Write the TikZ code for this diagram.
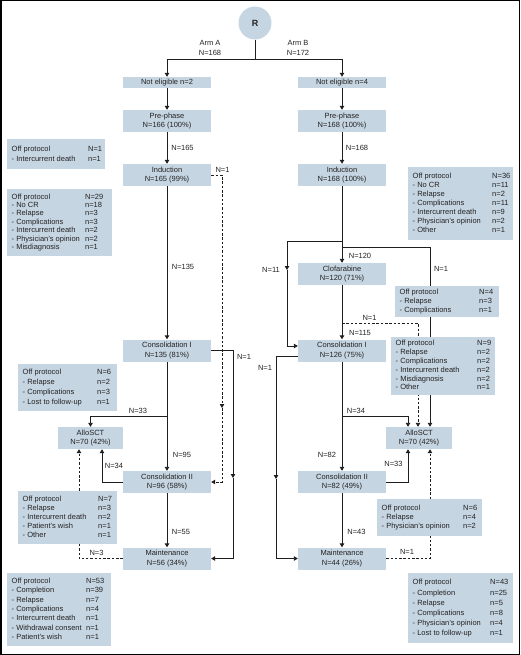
\documentclass[tikz,border=0pt]{standalone}
\usepackage{fontspec}
\setmainfont{Liberation Sans}
\usetikzlibrary{arrows.meta}
\definecolor{boxblue}{RGB}{198,213,226}
\definecolor{linec}{RGB}{30,30,30}
\definecolor{txt}{RGB}{35,35,35}
\tikzset{
 mainbox/.style={fill=boxblue, minimum width=88pt, minimum height=22pt, inner sep=0pt, align=center, font=\fontsize{7.5}{9.5}\selectfont, text=txt},
 thinbox/.style={mainbox, minimum height=11pt},
 opbox/.style={fill=boxblue, inner sep=0pt, anchor=north west},
 lab/.style={inner sep=0pt, font=\fontsize{7.5}{10}\selectfont, text=txt, align=center},
 conn/.style={draw=linec, line width=0.9pt},
 arr/.style={conn, -{Triangle[length=4pt,width=4.5pt]}},
 dsh/.style={dash pattern=on 2.5pt off 1.8pt},
}
\newcommand{\opb}[8]{%
 \node[opbox, minimum width={#4-#2}, minimum height={#5-#3}] (#1) at (#2,#3) {};
 \node[inner sep=0pt, anchor=west, text=txt] (#1t) at ([xshift=4.5pt]#1.west)
   {\fontsize{7.5}{#7}\selectfont\begin{tabular}{@{}p{#6pt}@{}l@{}}#8\end{tabular}};}
\begin{document}
\begin{tikzpicture}[x=1pt,y=-1pt]
\useasboundingbox (0,0) rectangle (520,655);
\draw[line width=1.5pt, draw=black] (0.75,0.75) rectangle (519.25,654.25);

% main nodes
\node[circle, fill=boxblue, minimum size=33pt, inner sep=0pt, font=\fontsize{9}{10}\selectfont\bfseries, text=txt] (R) at (255,23) {R};
\node[thinbox] (neA) at (167,82.5) {Not eligible n=2};
\node[thinbox] (neB) at (342,82.5) {Not eligible n=4};
\node[mainbox] (ppA) at (167,121) {Pre-phase\\N=166 (100\%)};
\node[mainbox] (ppB) at (342,121) {Pre-phase\\N=168 (100\%)};
\node[mainbox] (indA) at (167,175) {Induction\\N=165 (99\%)};
\node[mainbox] (indB) at (342,175) {Induction\\N=168 (100\%)};
\node[mainbox] (clo) at (342,274) {Clofarabine\\N=120 (71\%)};
\node[mainbox] (ciA) at (167,350.5) {Consolidation I\\N=135 (81\%)};
\node[mainbox] (ciB) at (342,350.5) {Consolidation I\\N=126 (75\%)};
\node[mainbox, minimum width=65pt] (alloA) at (90.5,438) {AlloSCT\\N=70 (42\%)};
\node[mainbox, minimum width=66pt] (alloB) at (419,438) {AlloSCT\\N=70 (42\%)};
\node[mainbox] (ciiA) at (167,482) {Consolidation II\\N=96 (58\%)};
\node[mainbox] (ciiB) at (342,482) {Consolidation II\\N=82 (49\%)};
\node[mainbox] (mA) at (167,558.5) {Maintenance\\N=56 (34\%)};
\node[mainbox] (mB) at (342,558.5) {Maintenance\\N=44 (26\%)};

% coordinates
\coordinate (split) at (255,59);
\coordinate (dAm) at (222,408);
\coordinate (cAm) at (233,478);
\coordinate (jA) at (167,416);
\coordinate (jB1) at (342,241);
\coordinate (jB2) at (342,247);
\coordinate (jB3) at (342,323);
\coordinate (jB4) at (342,416);
\coordinate (bLm) at (287,270);
\coordinate (bLm2) at (276,479);

% connectors
\draw[conn] (R) -- (split);
\draw[arr] (split) -| (neA);
\draw[arr] (split) -| (neB);
\draw[arr] (neA) -- (ppA);
\draw[arr] (neB) -- (ppB);
\draw[arr] (ppA) -- (indA);
\draw[arr] (ppB) -- (indB);
\draw[arr] (indA) -- (ciA);
\draw[arr,dsh] (indA.east) -| (dAm);
\draw[arr,dsh] (dAm) |- (ciiA.east);
\draw[arr] (ciA.east) -| (cAm);
\draw[arr] (cAm) |- (mA.east);
\draw[arr] (ciA) -- (ciiA);
\draw[arr] (jA) -| (alloA);
\draw[arr] (ciiA.west) -| ([xshift=11.5pt]alloA.south);
\draw[arr,dsh] (mA.west) -| ([xshift=-11.5pt]alloA.south);
\draw[arr] (ciiA) -- (mA);

\draw[arr] (indB) -- (clo);
\draw[arr] (jB1) -| (bLm);
\draw[arr] (bLm) |- ([yshift=4.5pt]ciB.west);
\draw[arr] (jB2) -| ([xshift=11pt]alloB.north);
\draw[arr] (clo) -- (ciB);
\draw[arr,dsh] (jB3) -| ([xshift=-1pt]alloB.north);
\draw[arr] ([yshift=-5.5pt]ciB.west) -| (bLm2);
\draw[arr] (bLm2) |- (mB.west);
\draw[arr] (ciB) -- (ciiB);
\draw[arr] (jB4) -| ([xshift=-11pt]alloB.north);
\draw[arr] (ciiB.east) -| ([xshift=-11pt]alloB.south);
\draw[arr] (ciiB) -- (mB);
\draw[arr,dsh] (mB.east) -| ([xshift=11pt]alloB.south);

% labels
\node[lab] (lArmA) at (210,48) {Arm A\\N=168};
\node[lab] (lArmB) at (298,48) {Arm B\\N=172};
\node[lab] (l1) at (182.5,148) {N=165};
\node[lab] (l2) at (357,148) {N=168};
\node[lab] (l3) at (183,267) {N=135};
\node[lab] (l4) at (222.5,170) {N=1};
\node[lab] (l5) at (244,357) {N=1};
\node[lab] (l6) at (138,411) {N=33};
\node[lab] (l7) at (182,455) {N=95};
\node[lab] (l8) at (114,466) {N=34};
\node[lab] (l9) at (96.5,553) {N=3};
\node[lab] (l10) at (181,532) {N=55};
\node[lab] (l11) at (360,256) {N=120};
\node[lab] (l12) at (271,270) {N=11};
\node[lab] (l13) at (441,269) {N=1};
\node[lab] (l14) at (369.5,318) {N=1};
\node[lab] (l15) at (360,333) {N=115};
\node[lab] (l16) at (265,368) {N=1};
\node[lab] (l17) at (356,411) {N=34};
\node[lab] (l18) at (327,455) {N=82};
\node[lab] (l19) at (393.5,464) {N=33};
\node[lab] (l20) at (356.5,532) {N=43};
\node[lab] (l21) at (407,552) {N=1};

% off protocol boxes
\opb{b1}{7}{139}{105}{169}{76.5}{10.3}{Off protocol & N=1\\ - Intercurrent death & n=1}
\opb{b2}{7}{189}{112}{256}{73.5}{8.4}{Off protocol & N=29\\ - No CR & n=18\\ - Relapse & n=3\\ - Complications & n=3\\ - Intercurrent death & n=2\\ - Physician's opinion & n=2\\ - Misdiagnosis & n=1}
\opb{b3}{18}{364}{117}{411}{74.5}{9.8}{Off protocol & N=6\\ - Relapse & n=2\\ - Complications & n=3\\ - Lost to follow-up & n=1}
\opb{b4}{18}{491}{117}{544}{75.5}{8.9}{Off protocol & N=7\\ - Relapse & n=3\\ - Intercurrent death & n=2\\ - Patient's wish & n=1\\ - Other & n=1}
\opb{b5}{7}{573}{111}{646}{74.5}{9.3}{Off protocol & N=53\\ - Completion & n=39\\ - Relapse & n=7\\ - Complications & n=4\\ - Intercurrent death & n=1\\ - Withdrawal consent & n=1\\ - Patient's wish & n=1}
\opb{b6}{408}{167}{513}{240}{79.5}{9.1}{Off protocol & N=36\\ - No CR & n=11\\ - Relapse & n=2\\ - Complications & n=11\\ - Intercurrent death & n=9\\ - Physician's opinion & n=2\\ - Other & n=1}
\opb{b7}{395}{286}{499}{317}{79.5}{9}{Off protocol & N=4\\ - Relapse & n=3\\ - Complications & n=1}
\opb{b8}{391}{337}{495}{395}{81.5}{8.8}{Off protocol & N=9\\ - Relapse & n=2\\ - Complications & n=2\\ - Intercurrent death & n=2\\ - Misdiagnosis & n=2\\ - Other & n=1}
\opb{b9}{377}{499}{482}{536}{81.5}{9}{Off protocol & N=6\\ - Relapse & n=4\\ - Physician's opinion & n=2}
\opb{b10}{408}{573}{513}{643}{77.5}{10.1}{Off protocol & N=43\\ - Completion & n=25\\ - Relapse & n=5\\ - Complications & n=8\\ - Physician's opinion & n=4\\ - Lost to follow-up & n=1}
\end{tikzpicture}
\end{document}
